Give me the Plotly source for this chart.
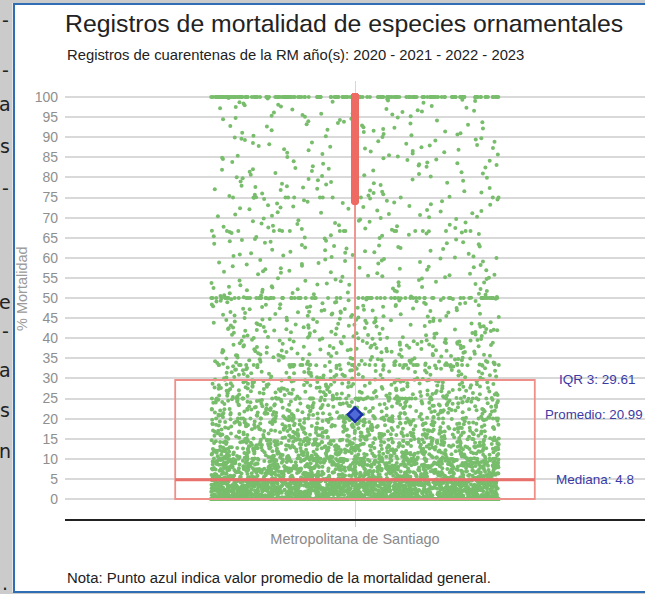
import plotly.graph_objects as go

# ---------------- data ----------------
categories = ["Metropolitana de Santiago"]
q1_vals = [0]
median_vals = [4.8]
q3_vals = [29.61]
mean_vals = [20.99]
lower_fence = [0]
upper_fence = [74.0]

# estimated counts of records per 5-unit mortality bin (values strictly inside the bin)
bin_lows = [0, 5, 10, 15, 20, 25, 30, 35, 40, 45, 50, 55, 60, 65, 70, 75, 80, 85, 90, 95]
bin_counts = [1400, 700, 430, 290, 220, 170, 125, 105, 85, 70, 45, 40, 38, 36, 35, 33, 33, 33, 33, 33]
# estimated counts of records at frequent exact values
exact_values = [0, 100, 50, 33.33, 25, 20, 10, 66.67, 75]
exact_counts = [2000, 180, 80, 35, 35, 25, 30, 15, 12]

title_text = "Registros de mortalidad de especies ornamentales"
subtitle_text = "Registros de cuarentenas de la RM año(s): 2020 - 2021 - 2022 - 2023"
note_text = "Nota: Punto azul indica valor promedio de la mortalidad general."
y_title = "% Mortalidad"
y_ticks = list(range(0, 101, 5))

# ---------------- expand counts into individual records ----------------
values = []
for low, cnt in zip(bin_lows, bin_counts):
    step = 5.0 / cnt
    values += [low + (k + 0.5) * step for k in range(cnt)]
for v, cnt in zip(exact_values, exact_counts):
    values += [v] * cnt
values.sort()
outliers = [v for v in values if v > upper_fence[0]]
cat = categories[0]

FONT = "Liberation Sans, Arial, sans-serif"
W, H = 645, 594
L, R, T, B = 65, 0, 81, 75
PW, PH = W - L - R, H - T - B


def px_x(px):
    return (px - L) / PW


def px_y(py):
    return (H - B - py) / PH


fig = go.Figure()

# jittered records
fig.add_trace(go.Box(
    x=[cat] * len(values), y=values, boxpoints="all", jitter=0.8, pointpos=0,
    marker=dict(color="#78bd6c", size=4, line=dict(width=0)),
    line=dict(width=0, color="rgba(0,0,0,0)"), fillcolor="rgba(0,0,0,0)",
    whiskerwidth=0, hoverinfo="skip", showlegend=False,
))

# box with precomputed statistics
fig.add_trace(go.Box(
    x=categories, q1=q1_vals, median=median_vals, q3=q3_vals,
    lowerfence=lower_fence, upperfence=upper_fence,
    line=dict(color="#ee8f8a", width=1.8), fillcolor="rgba(0,0,0,0)",
    whiskerwidth=0, boxpoints=False, showlegend=False, hoverinfo="skip",
))
# thicker median line
fig.add_trace(go.Box(
    x=categories, q1=median_vals, median=median_vals, q3=median_vals,
    lowerfence=median_vals, upperfence=median_vals,
    line=dict(color="#e8716b", width=3), fillcolor="rgba(0,0,0,0)",
    whiskerwidth=0, boxpoints=False, showlegend=False, hoverinfo="skip",
))

# outliers (red)
fig.add_trace(go.Scatter(
    x=[cat] * len(outliers), y=outliers, mode="markers",
    marker=dict(color="#ee6b64", size=8, line=dict(width=0)),
    showlegend=False, hoverinfo="skip",
))

# mean
fig.add_trace(go.Scatter(
    x=categories, y=mean_vals, mode="markers",
    marker=dict(symbol="diamond", color="#4f6ad6", size=11,
                line=dict(color="#1a2fa6", width=2.5)),
    showlegend=False, hoverinfo="skip",
))

annotations = [
    dict(text=subtitle_text, xref="paper", yref="paper", x=0, y=px_y(55),
         xanchor="left", yanchor="middle", showarrow=False,
         font=dict(family=FONT, size=14.8, color="#222222")),
    dict(text=note_text, xref="paper", yref="paper", x=0, y=px_y(578),
         xanchor="left", yanchor="middle", showarrow=False,
         font=dict(family=FONT, size=14.9, color="#222222")),
    dict(text=y_title, xref="paper", yref="paper", x=px_x(22), y=px_y(289),
         xanchor="center", yanchor="middle", textangle=-90, showarrow=False,
         font=dict(family=FONT, size=14.5, color="#9a9a9a")),
    dict(text=f"IQR 3: {q3_vals[0]}", xref="paper", yref="y", x=px_x(597), y=q3_vals[0],
         xanchor="center", yanchor="middle", showarrow=False,
         font=dict(family=FONT, size=13.5, color="#3b3ba6")),
    dict(text=f"Promedio: {mean_vals[0]}", xref="paper", yref="y", x=px_x(594), y=mean_vals[0],
         xanchor="center", yanchor="middle", showarrow=False,
         font=dict(family=FONT, size=13.3, color="#3b3ba6")),
    dict(text=f"Mediana: {median_vals[0]}", xref="paper", yref="y", x=px_x(595), y=median_vals[0],
         xanchor="center", yanchor="middle", showarrow=False,
         font=dict(family=FONT, size=13.5, color="#3b3ba6")),
]

# fragments of the neighbouring page visible at the left edge
frag_text = ["-", "-", "a", "s", "-", "e", "-", "a", "s", "n", "."]
frag_y = [20, 70, 104, 146, 188, 302, 331, 370, 410, 451, 583]
for t, yy in zip(frag_text, frag_y):
    annotations.append(dict(text=t, xref="paper", yref="paper", x=px_x(5), y=px_y(yy),
                            xanchor="center", yanchor="middle", showarrow=False,
                            font=dict(family="DejaVu Sans", size=19, color="#222222")))

shapes = [
    dict(type="rect", xref="paper", yref="paper", x0=px_x(0), x1=px_x(12.5), y0=px_y(H), y1=px_y(0),
         fillcolor="#cbcbcb", line=dict(width=0), layer="below"),
    dict(type="rect", xref="paper", yref="paper", x0=px_x(0), x1=px_x(W), y0=px_y(3), y1=px_y(0),
         fillcolor="#cbcbcb", line=dict(width=0), layer="below"),
    dict(type="rect", xref="paper", yref="paper", x0=px_x(0), x1=px_x(W), y0=px_y(H), y1=px_y(592),
         fillcolor="#cbcbcb", line=dict(width=0), layer="below"),
    dict(type="rect", xref="paper", yref="paper", x0=px_x(14), x1=px_x(W + 2), y0=px_y(592), y1=px_y(4),
         fillcolor="rgba(0,0,0,0)", line=dict(width=2, color="#2f6db5")),
]

fig.update_layout(
    width=W, height=H,
    margin=dict(l=L, r=R, t=T, b=B, pad=0),
    paper_bgcolor="white", plot_bgcolor="white",
    boxmode="overlay", boxgap=0.38, boxgroupgap=0,
    font=dict(family=FONT),
    title=dict(text=title_text, xref="container", yref="container",
               x=L / W, xanchor="left", y=1 - 23 / H, yanchor="middle",
               font=dict(family=FONT, size=24.8, color="#222222")),
    xaxis=dict(type="category", range=[-0.5, 0.5], showgrid=True, gridcolor="#d6d6d6", gridwidth=1,
               showline=True, linecolor="#222222", linewidth=2,
               ticks="outside", ticklen=6, tickcolor="#cccccc",
               tickfont=dict(family=FONT, size=14.5, color="#8a8a8a"), fixedrange=True),
    yaxis=dict(range=[-4.98, 104.0], tickvals=y_ticks, showgrid=True, gridcolor="#d9d9d9",
               gridwidth=2, zeroline=False, showline=False, ticks="", ticklabelstandoff=6,
               tickfont=dict(family=FONT, size=14, color="#8f8f8f")),
    annotations=annotations,
    shapes=shapes,
)

fig.write_html("out.html", config={"displayModeBar": False},
               post_script="document.body.style.margin='0';document.body.style.padding='0';")
